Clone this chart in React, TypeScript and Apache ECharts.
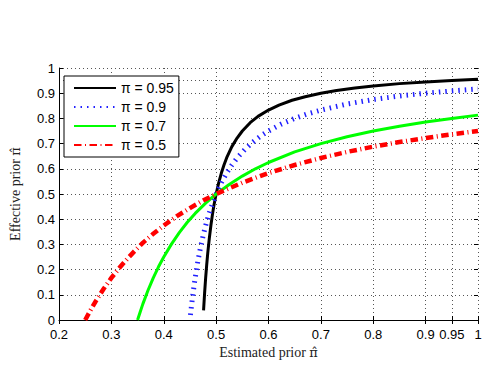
import React, { useEffect, useRef } from "react";
import * as echarts from "echarts";

const tickValues = [0.2, 0.3, 0.4, 0.5, 0.6, 0.7, 0.8, 0.9, 0.95, 1];
const yTickValues = [0, 0.1, 0.2, 0.3, 0.4, 0.5, 0.6, 0.7, 0.8, 0.9, 0.95, 1];
const seriesNames = ["π = 0.95", "π = 0.9", "π = 0.7", "π = 0.5"];

const pi095: [number, number][] = [
  [0.476, 0.038], [0.478, 0.107], [0.48, 0.167], [0.482, 0.219], [0.484, 0.265],
  [0.487, 0.324], [0.49, 0.375], [0.493, 0.419], [0.496, 0.457], [0.5, 0.5],
  [0.505, 0.545], [0.51, 0.583], [0.515, 0.615], [0.52, 0.643], [0.53, 0.688],
  [0.54, 0.722], [0.55, 0.75], [0.565, 0.783], [0.58, 0.808], [0.6, 0.833],
  [0.62, 0.853], [0.645, 0.872], [0.67, 0.886], [0.7, 0.9], [0.73, 0.911],
  [0.765, 0.921], [0.8, 0.929], [0.85, 0.938], [0.9, 0.944], [0.95, 0.95], [1.0, 0.955],
];
const pi09: [number, number][] = [
  [0.451, 0.02], [0.453, 0.057], [0.455, 0.091], [0.458, 0.138], [0.46, 0.167],
  [0.465, 0.231], [0.47, 0.286], [0.475, 0.333], [0.48, 0.375], [0.485, 0.412],
  [0.49, 0.444], [0.5, 0.5], [0.51, 0.545], [0.52, 0.583], [0.53, 0.615],
  [0.54, 0.643], [0.555, 0.677], [0.57, 0.706], [0.585, 0.73], [0.6, 0.75],
  [0.625, 0.778], [0.65, 0.8], [0.675, 0.818], [0.7, 0.833], [0.75, 0.857],
  [0.8, 0.875], [0.85, 0.889], [0.9, 0.9], [0.95, 0.909], [1.0, 0.917],
];
const pi07: [number, number][] = [
  [0.35, 0], [0.355, 0.032], [0.36, 0.063], [0.37, 0.118], [0.38, 0.167],
  [0.39, 0.211], [0.4, 0.25], [0.415, 0.302], [0.43, 0.348], [0.445, 0.388],
  [0.46, 0.423], [0.48, 0.464], [0.5, 0.5], [0.525, 0.538], [0.55, 0.571],
  [0.575, 0.6], [0.6, 0.625], [0.65, 0.667], [0.7, 0.7], [0.75, 0.727],
  [0.8, 0.75], [0.85, 0.769], [0.9, 0.786], [0.95, 0.8], [1.0, 0.813],
];
const pi05: [number, number][] = [
  [0.25, 0], [0.26, 0.038], [0.27, 0.074], [0.285, 0.123], [0.3, 0.167],
  [0.315, 0.206], [0.33, 0.242], [0.345, 0.275], [0.36, 0.306], [0.38, 0.342],
  [0.4, 0.375], [0.425, 0.412], [0.45, 0.444], [0.475, 0.474], [0.5, 0.5],
  [0.55, 0.545], [0.6, 0.583], [0.65, 0.615], [0.7, 0.643], [0.75, 0.667],
  [0.8, 0.688], [0.85, 0.706], [0.9, 0.722], [0.95, 0.737], [1.0, 0.75],
];

const fmt = (v: number) => String(Math.round(v * 100) / 100);

export default function App() {
  const ref = useRef<HTMLDivElement>(null);
  useEffect(() => {
    if (!ref.current) return;
    const chart = echarts.init(ref.current, undefined, { renderer: "svg" });
    const labelFont = { fontFamily: "Liberation Sans, Arial, sans-serif", fontSize: 13, color: "#000" };
    const nameFont = {
      fontFamily: "Liberation Serif, Times New Roman, serif",
      fontSize: 14,
      color: "#222",
      rich: {
        p: { fontFamily: "DejaVu Serif", fontSize: 13, color: "#222" },
      },
    };
    const grid = { type: [1, 3], color: "#555", width: 1 };
    const mkLine = (name: string, data: [number, number][], color: string, width: number, type: any) => ({
      name,
      type: "line",
      data,
      symbol: "none",
      showSymbol: false,
      smooth: false,
      lineStyle: { color, width, type, cap: "butt", join: "round" },
      itemStyle: { color },
      z: 3,
    });
    chart.setOption({
      animation: false,
      backgroundColor: "#fff",
      grid: { left: 57, right: 24, top: 68, bottom: 50, containLabel: false },
      legend: {
        orient: "vertical",
        left: 64,
        top: 76,
        data: seriesNames,
        backgroundColor: "#fff",
        borderColor: "#000",
        borderWidth: 1,
        borderRadius: 0,
        padding: [5, 5, 5, 9],
        itemWidth: 42,
        itemHeight: 14,
        itemGap: 5,
        itemStyle: { opacity: 0 },
        textStyle: { fontFamily: "Liberation Sans, Arial, sans-serif", fontSize: 14, color: "#000", lineHeight: 14 },
        z: 10,
      },
      xAxis: [
        {
          type: "value",
          min: 0.2,
          max: 1,
          name: "Estimated prior {p|\u03c0\u0302}",
          nameLocation: "middle",
          nameGap: 23,
          nameTextStyle: nameFont,
          axisLine: { show: true, lineStyle: { color: "#000", width: 1 } },
          axisTick: { show: true, inside: true, length: 4, customValues: tickValues, lineStyle: { color: "#000" } },
          axisLabel: { show: true, customValues: tickValues, formatter: fmt, margin: 8, lineHeight: 13, showMinLabel: true, showMaxLabel: true, ...labelFont },
          splitLine: { show: true, lineStyle: grid },
        },
        {
          type: "value",
          min: 0.2,
          max: 1,
          position: "top",
          axisLine: { show: false },
          axisTick: { show: true, inside: true, length: 4, customValues: tickValues, lineStyle: { color: "#000" } },
          axisLabel: { show: false },
          splitLine: { show: false },
        },
      ],
      yAxis: [
        {
          type: "value",
          min: 0,
          max: 1,
          name: "Effective prior {p|\u03c0\u0302}",
          nameLocation: "middle",
          nameGap: 37,
          nameTextStyle: nameFont,
          axisLine: { show: true, lineStyle: { color: "#000", width: 1 } },
          axisTick: { show: true, inside: true, length: 4, customValues: yTickValues, lineStyle: { color: "#000" } },
          axisLabel: { show: true, customValues: yTickValues, formatter: fmt, margin: 4, lineHeight: 11, showMinLabel: true, showMaxLabel: true, ...labelFont },
          splitLine: { show: true, lineStyle: grid },
        },
        {
          type: "value",
          min: 0,
          max: 1,
          position: "right",
          axisLine: { show: false },
          axisTick: { show: true, inside: true, length: 4, customValues: yTickValues, lineStyle: { color: "#000" } },
          axisLabel: { show: false },
          splitLine: { show: false },
        },
      ],
      series: [
        mkLine(seriesNames[0], pi095, "#000000", 3, "solid"),
        mkLine(seriesNames[1], pi09, "#2020ff", 5, [1.5, 5]),
        mkLine(seriesNames[2], pi07, "#00ff00", 3, "solid"),
        mkLine(seriesNames[3], pi05, "#ff0000", 4.5, [7.5, 3.5, 1, 3.5]),
      ],
    });
    return () => chart.dispose();
  }, []);
  return (
    <div
      ref={ref}
      style={{ position: "fixed", left: 0, top: 0, width: 502, height: 370, background: "#fff" }}
    />
  );
}
